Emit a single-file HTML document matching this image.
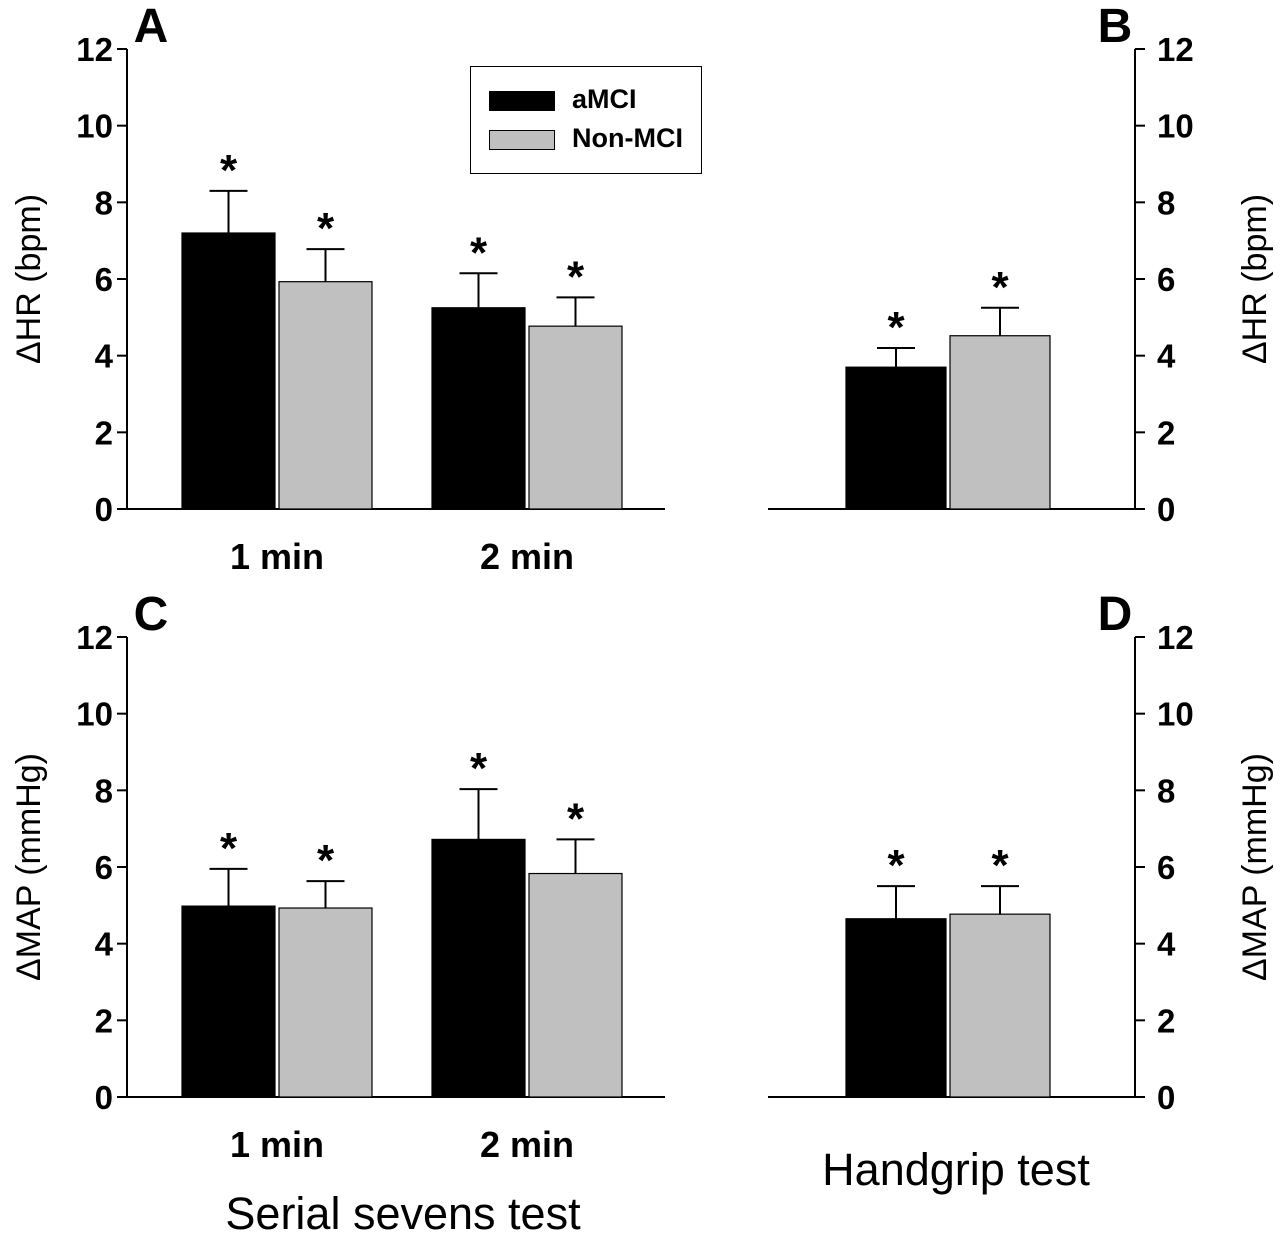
<!DOCTYPE html>
<html><head><meta charset="utf-8"><style>
body{margin:0;background:#fff}
svg{display:block}
text{font-family:"Liberation Sans",Arial,sans-serif;fill:#000}
</style></head><body>
<svg id="chart" width="1280" height="1234" viewBox="0 0 1280 1234">
<g id="g"></g>
<text x="403" y="1229" text-anchor="middle" font-size="45">Serial sevens test</text>
<text x="956" y="1185" text-anchor="middle" font-size="45">Handgrip test</text>
</svg>
<script>
const ticks=[0,2,4,6,8,10,12];
const groupsLeft=["1 min","2 min"];
const hrLeftA=[7.2,5.25], hrLeftN=[5.93,4.77];
const hrLeftAErr=[1.1,0.9], hrLeftNErr=[0.85,0.75];
const hrRightA=[3.7], hrRightN=[4.52];
const hrRightAErr=[0.5], hrRightNErr=[0.73];
const mapLeftA=[4.98,6.72], mapLeftN=[4.93,5.83];
const mapLeftAErr=[0.97,1.31], mapLeftNErr=[0.7,0.89];
const mapRightA=[4.65], mapRightN=[4.77];
const mapRightAErr=[0.85], mapRightNErr=[0.73];
const NS="http://www.w3.org/2000/svg";
const g=document.getElementById('g');
function el(t,a,txt){const e=document.createElementNS(NS,t);for(const k in a)e.setAttribute(k,a[k]);if(txt!=null)e.textContent=txt;g.appendChild(e);return e;}
function panel(o){
 const y=v=>o.y0-(v/12)*(o.y0-o.y12);
 let ax=el('line',{x1:o.ax,x2:o.ax,y1:o.y12,y2:o.y0,stroke:'#000','stroke-width':2});
 
 let xa=el('line',{x1:o.xa1,x2:o.xa2,y1:o.y0,y2:o.y0,stroke:'#000','stroke-width':2});
 
 ticks.forEach(t=>{
  const dx=o.right?10:-10;
  let l=el('line',{x1:o.ax,x2:o.ax+dx,y1:y(t),y2:y(t),stroke:'#000','stroke-width':2});
  
  let tx=el('text',{x:o.right?o.ax+22:o.ax-14,y:y(t)+12,'text-anchor':o.right?'start':'end','font-size':33,'font-weight':'bold'},t);
  
 });
 o.gx.forEach((cx,i)=>{
  [[o.a,o.ae,'#000',-1],[o.n,o.ne,'#c0c0c0',1]].forEach(([vals,errs,col,s])=>{
   const x0=s<0?cx-o.bw-o.gap/2:cx+o.gap/2;
   const v=vals[i],e=errs[i],mid=x0+o.bw/2;
   let err=el('path',{d:`M${mid} ${y(v)}V${y(v+e)}M${mid-o.cap} ${y(v+e)}H${mid+o.cap}`,stroke:'#000','stroke-width':2,fill:'none'});
   
   let r=el('rect',{x:x0,y:y(v),width:o.bw,height:y(0)-y(v),fill:col,stroke:'#000','stroke-width':1.2});
   
   let st=el('text',{x:mid,y:y(v+e)-6,'text-anchor':'middle','font-size':44,'font-weight':'bold'},'*');
   
  });
  if(o.labels){let lb=el('text',{x:cx,y:o.y0+60,'text-anchor':'middle','font-size':36,'font-weight':'bold'},o.labels[i]);
  }
 });
 const lx=o.right?1266:40,ly=(o.y0+o.y12)/2;
 let yt=el('text',{x:lx,y:ly,'text-anchor':'middle','font-size':34,transform:`rotate(-90 ${lx} ${ly})`},o.ytitle);
 
 let pl=el('text',{x:o.lx,y:o.y12-7,'text-anchor':'middle','font-size':48,'font-weight':'bold'},o.letter);
 
}
const L={ax:127,xa1:127,xa2:665,gx:[277,527],bw:93,gap:4,cap:19,labels:groupsLeft};
const R={ax:1135,xa1:768,xa2:1135,gx:[948],bw:100,gap:4,cap:19,right:true};
panel({...L,name:'panel-a',y0:509,y12:49,a:hrLeftA,n:hrLeftN,ae:hrLeftAErr,ne:hrLeftNErr,ytitle:'ΔHR (bpm)',letter:'A',lx:151});
panel({...R,name:'panel-b',y0:509,y12:49,a:hrRightA,n:hrRightN,ae:hrRightAErr,ne:hrRightNErr,ytitle:'ΔHR (bpm)',letter:'B',lx:1115});
panel({...L,name:'panel-c',y0:1097,y12:637,a:mapLeftA,n:mapLeftN,ae:mapLeftAErr,ne:mapLeftNErr,ytitle:'ΔMAP (mmHg)',letter:'C',lx:151});
panel({...R,name:'panel-d',y0:1097,y12:637,a:mapRightA,n:mapRightN,ae:mapRightAErr,ne:mapRightNErr,ytitle:'ΔMAP (mmHg)',letter:'D',lx:1115});
</script>
<div style="position:absolute;left:470px;top:66px;width:232px;height:108px;border:1.5px solid #000;box-sizing:border-box">
 <div style="position:absolute;left:18px;top:24px;width:64px;height:18px;background:#000;border:1px solid #000"></div>
 <div style="position:absolute;left:101px;top:17px;font:bold 27px 'Liberation Sans',sans-serif">aMCI</div>
 <div style="position:absolute;left:18px;top:63px;width:64px;height:18px;background:#c0c0c0;border:1px solid #000"></div>
 <div style="position:absolute;left:101px;top:56px;font:bold 27px 'Liberation Sans',sans-serif">Non-MCI</div>
</div>
</body></html>
